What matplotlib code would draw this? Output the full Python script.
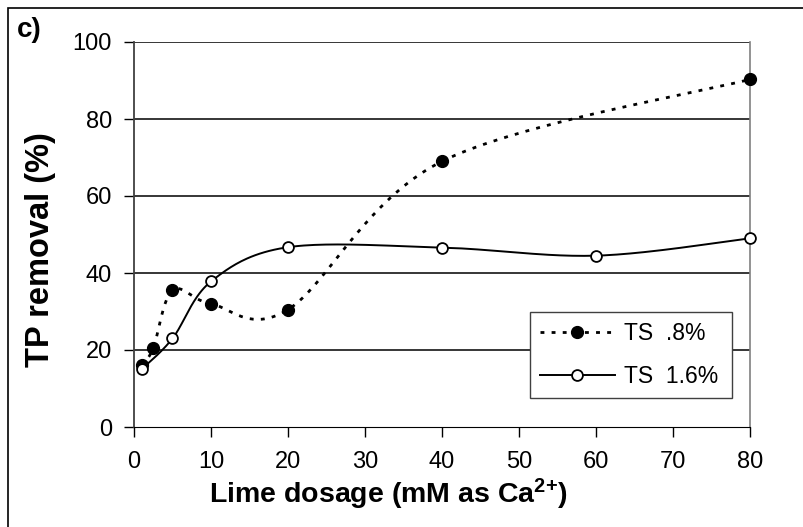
import numpy as np
import matplotlib
matplotlib.use("Agg")
import matplotlib.pyplot as plt
from matplotlib.patches import Rectangle
from matplotlib.lines import Line2D

plt.rcParams['font.family'] = ['Liberation Sans', 'DejaVu Sans']
plt.rcParams['mathtext.fontset'] = 'custom'
plt.rcParams['mathtext.rm'] = 'Liberation Sans'
plt.rcParams['mathtext.bf'] = 'Liberation Sans:bold'

# Data
dose_08 = [1, 2.5, 5, 10, 20, 40, 80]
removal_08 = [16, 20.5, 35.5, 32, 30.5, 69, 90.3]
dose_16 = [1, 5, 10, 20, 40, 60, 80]
removal_16 = [15, 23, 37.8, 46.7, 46.6, 44.5, 49]
label_08 = "TS  .8%"
label_16 = "TS  1.6%"
xticks = [0, 10, 20, 30, 40, 50, 60, 70, 80]
yticks = [0, 20, 40, 60, 80, 100]

W, H = 804, 527
fig = plt.figure(figsize=(W / 100, H / 100), dpi=100)
ax = fig.add_axes([134 / W, 1 - 427 / H, (750 - 134) / W, (427 - 42) / H])
ax.set_xlim(0, 80)
ax.set_ylim(0, 100)


def smooth(xs, ys, n=40):
    """Excel-like smoothed line: Catmull-Rom Bezier in display space."""
    pts = ax.transData.transform(np.column_stack([xs, ys]))
    P = np.vstack([pts[0], pts, pts[-1]])
    out = []
    for i in range(1, len(P) - 2):
        p0, p1, p2, p3 = P[i - 1], P[i], P[i + 1], P[i + 2]
        c1 = p1 + (p2 - p0) / 6.0
        c2 = p2 - (p3 - p1) / 6.0
        t = np.linspace(0, 1, n)[:, None]
        seg = ((1 - t) ** 3) * p1 + 3 * ((1 - t) ** 2) * t * c1 + 3 * (1 - t) * t ** 2 * c2 + t ** 3 * p2
        out.append(seg if i == 1 else seg[1:])
    out = np.vstack(out)
    d = ax.transData.inverted().transform(out)
    return d[:, 0], d[:, 1]


# gridlines
for y in yticks[1:]:
    ax.axhline(y, color='black', lw=1.1, zorder=1)

dot_style = (0, (1.4, 2.6))
sx, sy = smooth(dose_08, removal_08)
ax.plot(sx, sy, color='black', lw=2.0, linestyle=dot_style, zorder=3)
ax.plot(dose_08, removal_08, 'o', color='black', ms=8.5, zorder=4, clip_on=False)

sx2, sy2 = smooth(dose_16, removal_16)
ax.plot(sx2, sy2, color='black', lw=1.4, zorder=3)
ax.plot(dose_16, removal_16, 'o', mfc='white', mec='black', mew=1.3, ms=7.8, zorder=5, clip_on=False)

ax.set_xticks(xticks)
ax.set_yticks(yticks)
ax.tick_params(axis='both', direction='out', length=7, width=1.0, labelsize=17, color='black')
ax.tick_params(axis='y', pad=9)
ax.tick_params(axis='x', pad=10.5)
ax.spines['top'].set_visible(False)
ax.spines['left'].set_color('#404040')
ax.spines['bottom'].set_color('black')
ax.spines['right'].set_color('#808080')
ax.spines['left'].set_linewidth(1.3)
ax.spines['right'].set_linewidth(1.2)

# Legend
h1 = Line2D([], [], color='black', lw=2.0, linestyle=dot_style, marker='o', ms=8.5, mfc='black')
h2 = Line2D([], [], color='black', lw=1.4, marker='o', ms=7.8, mfc='white', mec='black', mew=1.3)
leg = ax.legend([h1, h2], [label_08, label_16], loc='lower left',
                bbox_to_anchor=((530 - 134) / 616, (427 - 398) / 385, (732 - 530) / 616, (398 - 314) / 385),
                mode='expand', fontsize=16.5, frameon=True, fancybox=False, framealpha=1,
                edgecolor='#404040', handlelength=3.3, handletextpad=0.4, borderpad=0.42,
                labelspacing=0.9, borderaxespad=0)
leg.get_frame().set_linewidth(1.0)
leg.set_zorder(10)

# Labels
fig.text(388 / W, 1 - 503 / H, r'Lime dosage (mM as Ca$\mathbf{^{2{+}}}$)', fontsize=20.5,
         fontweight='bold', ha='center', va='baseline')
fig.text(41 / W, 1 - 250 / H, 'TP removal (%)', fontsize=23.5, fontweight='bold',
         rotation=90, ha='center', va='center')
fig.text(17 / W, 1 - 37 / H, 'c)', fontsize=20, fontweight='bold', ha='left', va='baseline')

# figure border
fig.patches.append(Rectangle((8 / W, -0.1), 2, 1 - 8 / H + 0.1, transform=fig.transFigure,
                             fill=False, edgecolor='black', lw=1.2))

fig.savefig('out.png', dpi=100)
